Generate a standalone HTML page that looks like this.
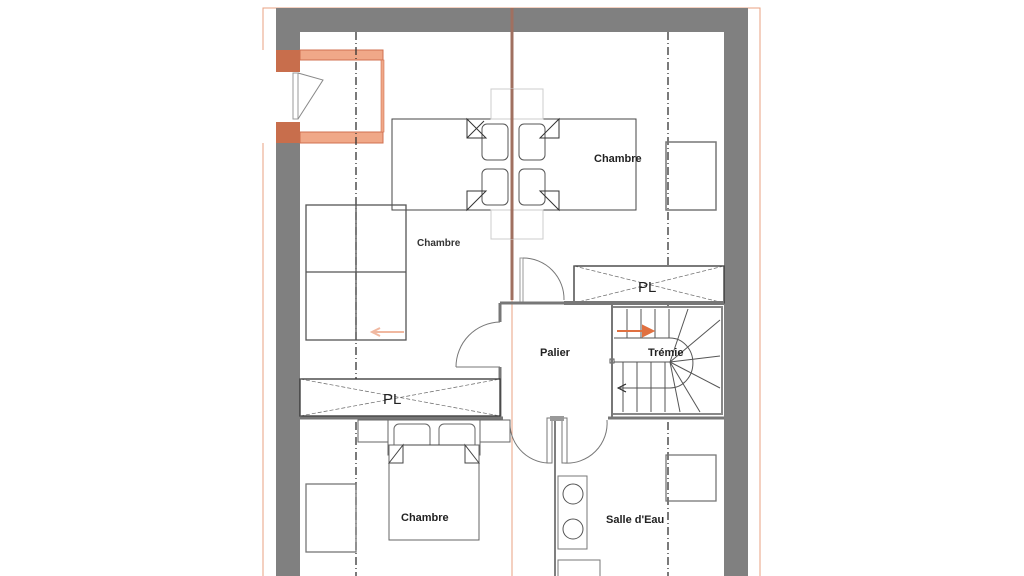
<!DOCTYPE html>
<html><head><style>body{margin:0;background:#fff}svg{display:block}</style></head><body>
<svg width="1024" height="576" viewBox="0 0 1024 576" xmlns="http://www.w3.org/2000/svg" font-family="Liberation Sans, sans-serif">
<rect width="1024" height="576" fill="#fff"/>
<!-- orange outline -->
<path d="M263 50 V8 H760 V576" fill="none" stroke="#e8a080" stroke-width="1"/>
<path d="M263 143 V576" fill="none" stroke="#e8a080" stroke-width="1"/>
<!-- outer walls -->
<rect x="276" y="8" width="472" height="24" fill="#808080"/>
<rect x="276" y="8" width="24" height="568" fill="#808080"/>
<rect x="724" y="8" width="24" height="568" fill="#808080"/>
<!-- window -->
<rect x="276" y="72" width="24" height="50" fill="#fff"/>
<rect x="300" y="50" width="83" height="10" fill="#f0a888" stroke="#d07050"/>
<rect x="300" y="132" width="83" height="11" fill="#f0a888" stroke="#d07050"/>
<rect x="381" y="60" width="3" height="72" fill="#f0a888" stroke="#d07050" stroke-width="0.6"/>
<rect x="276" y="50" width="24" height="22" fill="#c86e4c"/>
<rect x="276" y="122" width="24" height="21" fill="#c86e4c"/>
<rect x="293" y="73" width="5" height="46" fill="#fff" stroke="#999"/>
<path d="M298 73 L323 80 L298 119" fill="none" stroke="#888"/>
<!-- central divider -->
<line x1="512" y1="8" x2="512" y2="300" stroke="#a07060" stroke-width="3"/>
<line x1="512" y1="300" x2="512" y2="576" stroke="#e8a080" stroke-width="1"/>
<!-- dash-dot lines -->
<g stroke="#333" stroke-dasharray="8,3,1,3" stroke-width="1.3">
<line x1="356" y1="32" x2="356" y2="576"/>
<line x1="668" y1="32" x2="668" y2="576"/>
</g>
<!-- top bed -->
<rect x="491" y="89" width="52" height="150" fill="none" stroke="#ccc"/>
<rect x="392" y="119" width="244" height="91" fill="#fff" stroke="#444"/>
<rect x="491" y="89" width="52" height="30" fill="none" stroke="#ccc"/>
<rect x="491" y="210" width="52" height="29" fill="none" stroke="#ccc"/>
<g fill="#fff" stroke="#555">
<rect x="482" y="124" width="26" height="36" rx="5"/><rect x="519" y="124" width="26" height="36" rx="5"/>
<rect x="482" y="169" width="26" height="36" rx="5"/><rect x="519" y="169" width="26" height="36" rx="5"/>
</g>
<g fill="none" stroke="#333">
<path d="M467 119 V138 H486 Z M467 138 L484 121"/><path d="M559 119 V138 H540 Z"/>
<path d="M467 210 V191 H486 Z"/><path d="M559 210 V191 H540 Z"/>
</g>
<line x1="512" y1="89" x2="512" y2="239" stroke="#a07060" stroke-width="3"/>
<text x="594" y="162" font-size="11" font-weight="bold" fill="#222">Chambre</text>
<rect x="666" y="142" width="50" height="68" fill="none" stroke="#777" stroke-width="1.5"/>
<!-- wardrobe left -->
<g fill="none" stroke="#555" stroke-width="1.3">
<rect x="306" y="205" width="100" height="135"/>
<line x1="306" y1="272" x2="406" y2="272"/><line x1="356" y1="205" x2="356" y2="340"/>
</g>
<path d="M404 332 H374 M380 328 L372 332 L380 336" fill="none" stroke="#f0b8a0" stroke-width="2"/>
<text x="417" y="246" font-size="10" font-weight="bold" fill="#333">Chambre</text>
<!-- PL right -->
<rect x="574" y="266" width="150" height="37" fill="#fff" stroke="#333" stroke-width="1.3"/>
<path d="M574 266 L724 303 M574 303 L724 266" stroke="#666" stroke-dasharray="4,2" stroke-width="0.7"/>
<text x="638" y="292" font-size="15" fill="#222">PL</text>
<!-- door top right palier -->
<rect x="520" y="258" width="3" height="45" fill="#fff" stroke="#999"/>
<path d="M523 258 A41 41 0 0 1 564 300" fill="none" stroke="#777"/>
<!-- palier walls -->
<line x1="500" y1="303" x2="564" y2="303" stroke="#777" stroke-width="3"/>
<line x1="564" y1="303" x2="724" y2="303" stroke="#777" stroke-width="4"/>
<line x1="500" y1="303" x2="500" y2="322" stroke="#777" stroke-width="3"/>
<line x1="500" y1="367" x2="500" y2="418" stroke="#777" stroke-width="3"/>
<path d="M456 367 A45 45 0 0 1 500 322 M456 367 H500" fill="none" stroke="#777"/>
<text x="540" y="356" font-size="11" font-weight="bold" fill="#222">Palier</text>
<!-- stairs -->
<rect x="612" y="307" width="110" height="107" fill="#fff" stroke="#888" stroke-width="2"/>
<g stroke="#555" stroke-width="1">
<line x1="627" y1="309" x2="627" y2="338"/><line x1="641" y1="309" x2="641" y2="338"/><line x1="655" y1="309" x2="655" y2="338"/><line x1="669" y1="309" x2="669" y2="338"/>
<line x1="623" y1="362" x2="623" y2="412"/><line x1="637" y1="362" x2="637" y2="412"/><line x1="651" y1="362" x2="651" y2="412"/><line x1="665" y1="362" x2="665" y2="412"/>
<line x1="614" y1="338" x2="670" y2="338"/><line x1="614" y1="362" x2="670" y2="362"/>
<line x1="670" y1="362" x2="688" y2="309"/><line x1="670" y1="362" x2="720" y2="320"/><line x1="670" y1="362" x2="720" y2="356"/><line x1="670" y1="362" x2="720" y2="388"/><line x1="670" y1="362" x2="700" y2="412"/><line x1="670" y1="362" x2="680" y2="412"/>
<path d="M670 338 A22 24 0 0 1 670 388 H620" fill="none"/>
<path d="M626 384 L618 388 L626 392" fill="none" stroke="#222"/>
</g>
<rect x="610" y="359" width="4" height="4" fill="#fff" stroke="#555"/>
<path d="M617 331 H645 M643 326 L653 331 L643 336 Z" fill="#e07040" stroke="#e07040" stroke-width="2"/>
<text x="648" y="356" font-size="11" font-weight="bold" fill="#222">Trémie</text>
<!-- PL left -->
<rect x="300" y="379" width="200" height="37" fill="#fff" stroke="#333" stroke-width="1.3"/>
<path d="M300 379 L500 416 M300 416 L500 379" stroke="#666" stroke-dasharray="4,2" stroke-width="0.7"/>
<text x="383" y="404" font-size="15" fill="#222">PL</text>
<!-- horizontal walls -->
<line x1="300" y1="418" x2="503" y2="418" stroke="#777" stroke-width="3"/>
<line x1="608" y1="418" x2="724" y2="418" stroke="#777" stroke-width="3"/>
<line x1="612" y1="303" x2="612" y2="418" stroke="#777" stroke-width="2"/>
<!-- bottom palier doors -->
<path d="M510 420 A40 40 0 0 0 548 463" fill="none" stroke="#777"/>
<path d="M607 420 A40 40 0 0 1 564 463" fill="none" stroke="#777"/>
<rect x="547" y="418" width="5" height="45" fill="#fff" stroke="#777"/>
<rect x="562" y="418" width="5" height="45" fill="#fff" stroke="#777"/>
<rect x="550" y="416" width="14" height="5" fill="#999"/>
<line x1="555" y1="421" x2="555" y2="576" stroke="#555" stroke-width="1.5"/>
<!-- bottom bed -->
<g fill="#fff" stroke="#666">
<rect x="358" y="420" width="30" height="22"/><rect x="480" y="420" width="30" height="22"/>
<rect x="388" y="420" width="92" height="35"/>
<rect x="394" y="424" width="36" height="26" rx="5"/><rect x="439" y="424" width="36" height="26" rx="5"/>
<rect x="389" y="445" width="90" height="95"/>
</g>
<path d="M389 463 L403 445 H403 V463 Z M479 463 L465 445 V463 Z" fill="#fff" stroke="#444"/>
<line x1="403" y1="445" x2="465" y2="445" stroke="#444"/>
<text x="401" y="521" font-size="11" font-weight="bold" fill="#222">Chambre</text>
<rect x="306" y="484" width="50" height="68" fill="none" stroke="#777" stroke-width="1.3"/>
<!-- salle d'eau -->
<rect x="558" y="476" width="29" height="73" fill="#fff" stroke="#777"/>
<circle cx="573" cy="494" r="10" fill="none" stroke="#555"/><circle cx="573" cy="529" r="10" fill="none" stroke="#555"/>
<rect x="558" y="560" width="42" height="20" fill="#fff" stroke="#777"/>
<rect x="666" y="455" width="50" height="46" fill="none" stroke="#777" stroke-width="1.3"/>
<text x="606" y="523" font-size="11" font-weight="bold" fill="#222">Salle d'Eau</text>
</svg>
</body></html>
